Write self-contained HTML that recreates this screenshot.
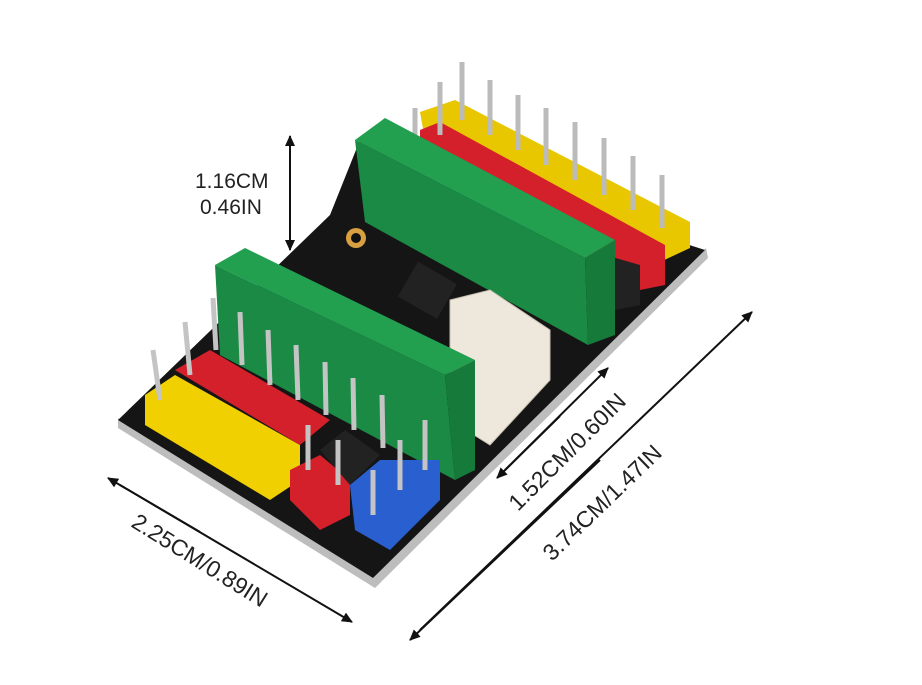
<!DOCTYPE html>
<html><head><meta charset="utf-8"><style>
html,body{margin:0;padding:0;background:#fff;}
svg{display:block;}
text{font-family:"Liberation Sans",sans-serif;fill:#222;}
</style></head><body>
<svg width="922" height="685" viewBox="0 0 922 685" xmlns="http://www.w3.org/2000/svg">
<defs>
<marker id="a" markerWidth="12" markerHeight="12" refX="10" refY="6" orient="auto" markerUnits="userSpaceOnUse">
<path d="M0,1 L11,6 L0,11 z" fill="#111"/></marker>
</defs>
<rect width="922" height="685" fill="#fff"/>
<polygon points="118,428 375,588 708,258 706,248 373,578 118,418" fill="#bdbdbd"/>
<polygon points="118,420 330,215 360,140 705,250 373,578" fill="#151515"/>
<polygon points="420,112 455,100 690,222 690,248 660,262 425,140" fill="#e8c600"/>
<polygon points="420,130 440,122 665,245 665,285 640,290 420,160" fill="#d4202a"/>
<polygon points="605,255 640,265 640,305 615,310 605,290" fill="#222"/>
<g stroke="#bbb" stroke-width="5">
<line x1="462" y1="62" x2="462" y2="120"/><line x1="490" y1="80" x2="490" y2="135"/>
<line x1="518" y1="95" x2="518" y2="150"/><line x1="546" y1="108" x2="546" y2="165"/>
<line x1="575" y1="122" x2="575" y2="180"/><line x1="604" y1="138" x2="604" y2="195"/>
<line x1="633" y1="156" x2="633" y2="210"/><line x1="662" y1="175" x2="662" y2="228"/>
<line x1="440" y1="82" x2="440" y2="135"/><line x1="415" y1="108" x2="415" y2="150"/>
</g>
<polygon points="355,140 385,118 615,240 585,258" fill="#22a050"/>
<polygon points="355,140 585,258 588,345 365,222" fill="#1a8a44"/>
<polygon points="585,258 615,240 615,335 588,345" fill="#157a3a"/>
<circle cx="356" cy="238" r="10" fill="#d8a040"/><circle cx="356" cy="238" r="5" fill="#111"/>
<rect x="405" y="270" width="45" height="40" fill="#222" transform="rotate(30 427 290)"/>
<polygon points="450,300 490,290 550,330 550,380 490,445 450,420" fill="#eee8dc" stroke="#c8c0b0"/>
<polygon points="215,265 245,248 475,360 445,375" fill="#22a050"/>
<polygon points="215,265 445,375 455,480 220,355" fill="#1a8a44"/>
<polygon points="445,375 475,360 475,470 455,480" fill="#157a3a"/>
<polygon points="145,395 175,375 300,445 300,480 270,500 145,425" fill="#f0d000"/>
<polygon points="175,370 210,350 330,420 300,445" fill="#d4202a"/>
<polygon points="290,470 320,455 350,480 350,515 320,530 290,500" fill="#d4202a"/>
<polygon points="350,485 380,460 440,460 440,500 390,550 355,530" fill="#2a5fd0"/>
<polygon points="320,450 345,430 380,455 350,485" fill="#222"/>
<g stroke="#c4c4c4" stroke-width="5">
<line x1="153" y1="350" x2="160" y2="400"/><line x1="185" y1="322" x2="190" y2="375"/>
<line x1="213" y1="298" x2="216" y2="350"/><line x1="240" y1="312" x2="242" y2="365"/>
<line x1="268" y1="330" x2="270" y2="385"/><line x1="296" y1="345" x2="298" y2="400"/>
<line x1="325" y1="362" x2="326" y2="415"/><line x1="353" y1="378" x2="354" y2="430"/>
<line x1="382" y1="395" x2="383" y2="448"/><line x1="425" y1="420" x2="425" y2="470"/>
<line x1="400" y1="440" x2="400" y2="490"/><line x1="373" y1="470" x2="373" y2="515"/>
<line x1="338" y1="440" x2="338" y2="485"/><line x1="308" y1="425" x2="308" y2="470"/>
</g>
<g stroke="#111" stroke-width="2">
<line x1="290" y1="150" x2="290" y2="136" marker-end="url(#a)"/>
<line x1="290" y1="140" x2="290" y2="250" marker-end="url(#a)"/>
<line x1="200" y1="532" x2="108" y2="478" marker-end="url(#a)"/>
<line x1="120" y1="485" x2="352" y2="622" marker-end="url(#a)"/>
<line x1="560" y1="416" x2="497" y2="478" marker-end="url(#a)"/>
<line x1="505" y1="470" x2="608" y2="368" marker-end="url(#a)"/>
<line x1="600" y1="460" x2="410" y2="640" marker-end="url(#a)"/>
<line x1="420" y1="630" x2="752" y2="312" marker-end="url(#a)"/>
</g>
<text x="195" y="188" font-size="21">1.16CM</text>
<text x="200" y="214" font-size="21">0.46IN</text>
<text font-size="23" transform="translate(130,526) rotate(32)">2.25CM/0.89IN</text>
<text font-size="23" transform="translate(518,512) rotate(-45)">1.52CM/0.60IN</text>
<text font-size="23" transform="translate(552,562) rotate(-44)">3.74CM/1.47IN</text>
</svg>
</body></html>
